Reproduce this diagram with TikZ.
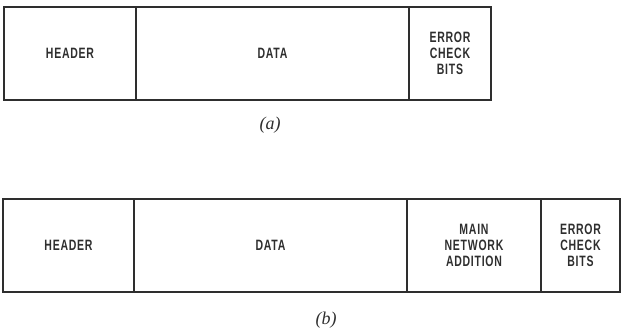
\documentclass[tikz,border=0pt]{standalone}
\usepackage{fontspec}
\setmainfont{Liberation Serif}
\newfontfamily\fieldfont[FakeStretch=0.7,LetterSpace=5]{Liberation Sans Bold}
\usetikzlibrary{positioning}
\definecolor{ink}{HTML}{2E2E2E}
\tikzset{
  field/.style={draw=ink, line width=1.8pt, minimum height=93pt, inner sep=0pt, outer sep=0pt,
    align=center, text=ink, font=\fieldfont\fontsize{15}{16}\selectfont},
  captext/.style={font=\itshape\fontsize{18}{20}\selectfont, text=ink},
}
\begin{document}
\begin{tikzpicture}[x=1pt, y=-1pt]
    \useasboundingbox (0,0) rectangle (622,334);
    % (a): header, data, check bits
    \node[field, minimum width=132pt, anchor=north west] (hdrA) at (4,7) {HEADER};
    \node[field, minimum width=273pt, right=0pt of hdrA] (dataA) {DATA};
    \node[field, minimum width=82pt, right=0pt of dataA] (chkA) {ERROR\\CHECK\\BITS};
    \node[captext] (capA) at (270,125) {(a)};
    % (b): with main network addition
    \node[field, minimum width=131pt, anchor=north west] (hdrB) at (3,199) {HEADER};
    \node[field, minimum width=273pt, right=0pt of hdrB] (dataB) {DATA};
    \node[field, minimum width=134pt, right=0pt of dataB] (mainB) {MAIN\\NETWORK\\ADDITION};
    \node[field, minimum width=79pt, right=0pt of mainB] (chkB) {ERROR\\CHECK\\BITS};
    \node[captext] (capB) at (326,320) {(b)};
\end{tikzpicture}
\end{document}
